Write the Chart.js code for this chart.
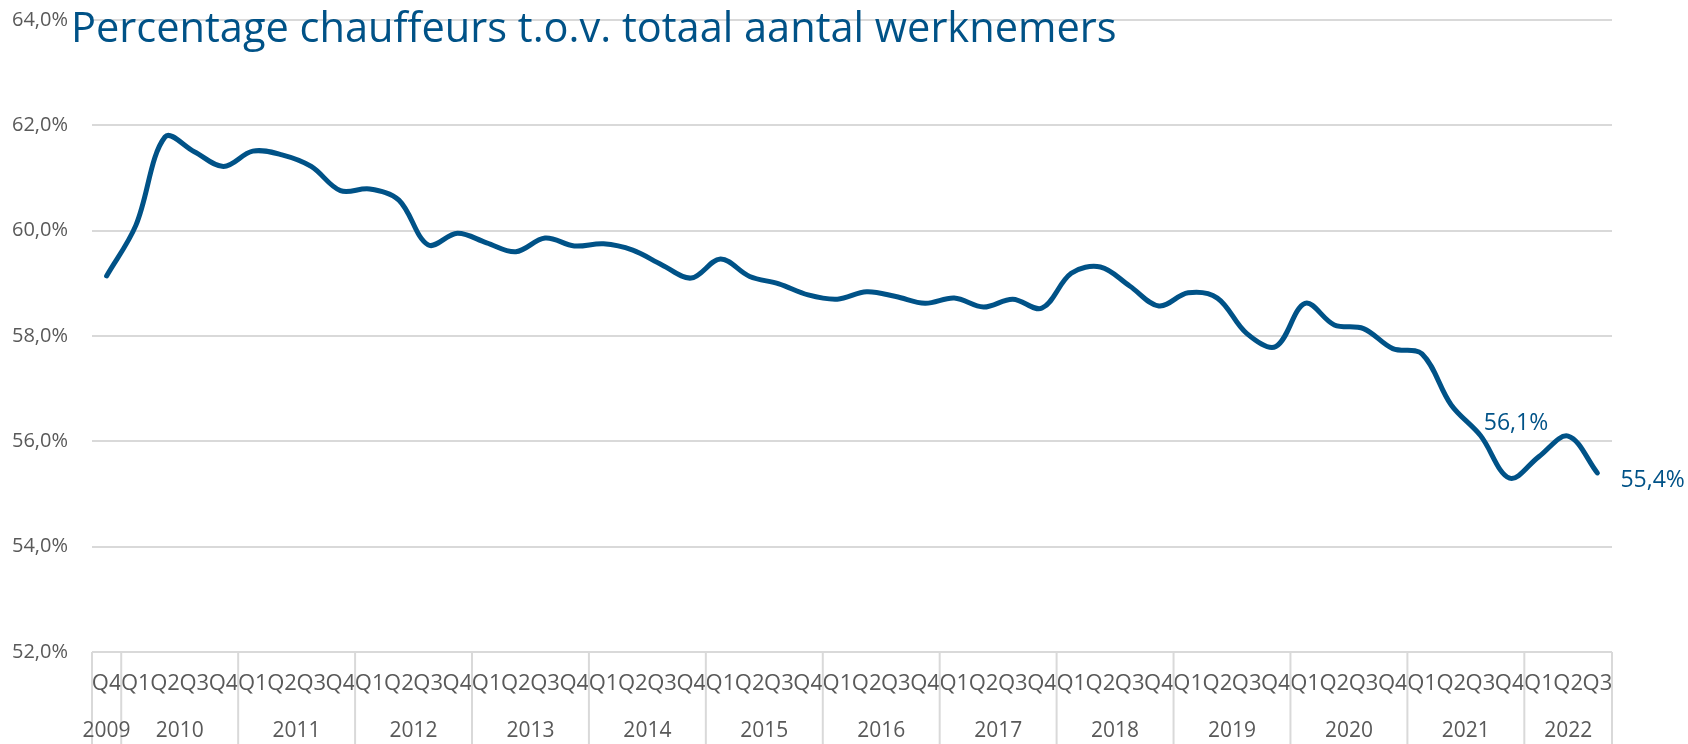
<!DOCTYPE html>
<html><head><meta charset="utf-8">
<script src="https://cdn.jsdelivr.net/npm/chart.js@4.4.1/dist/chart.umd.min.js"></script>
<style>html,body{margin:0;padding:0;background:#fff;overflow:hidden}#wrap{width:1688px;height:744px;position:relative}</style>
</head><body><div id="wrap"><canvas id="c" width="1688" height="744"></canvas></div>
<script>
const titleText = 'Percentage chauffeurs t.o.v. totaal aantal werknemers';
const quarters = ['Q4',
  'Q1','Q2','Q3','Q4','Q1','Q2','Q3','Q4','Q1','Q2','Q3','Q4','Q1','Q2','Q3','Q4',
  'Q1','Q2','Q3','Q4','Q1','Q2','Q3','Q4','Q1','Q2','Q3','Q4','Q1','Q2','Q3','Q4',
  'Q1','Q2','Q3','Q4','Q1','Q2','Q3','Q4','Q1','Q2','Q3','Q4','Q1','Q2','Q3','Q4',
  'Q1','Q2','Q3'];
const years = ['2009',
  '2010','2010','2010','2010','2011','2011','2011','2011','2012','2012','2012','2012',
  '2013','2013','2013','2013','2014','2014','2014','2014','2015','2015','2015','2015',
  '2016','2016','2016','2016','2017','2017','2017','2017','2018','2018','2018','2018',
  '2019','2019','2019','2019','2020','2020','2020','2020','2021','2021','2021','2021',
  '2022','2022','2022'];
const shareDrivers = [59.14,
  60.10,61.78,61.50,61.22, 61.51,61.44,61.22,60.76, 60.79,60.58,59.73,59.95,
  59.77,59.60,59.86,59.71, 59.75,59.63,59.35,59.10, 59.46,59.13,58.99,58.78,
  58.70,58.84,58.75,58.62, 58.72,58.55,58.70,58.53, 59.19,59.31,58.95,58.57,
  58.82,58.72,58.05,57.80, 58.62,58.21,58.14,57.76, 57.66,56.69,56.11,55.30,
  55.71,56.10,55.40];
const labeledIdx = [50, 51];
const yMin = 52, yMax = 64, yStep = 2;

const BLUE = '#005287';
const GRAY = '#595959';
const GRID = '#d9d9d9';
const FONT = '"Open Sans", "Noto Sans", sans-serif';
const fmt = v => v.toFixed(1).replace('.', ',') + '%';
const AREA_TOP = 20, AREA_BOTTOM = 652;

const decor = {
  id: 'decor',
  afterDraw(chart) {
    const {ctx, chartArea, scales: {x}} = chart;
    ctx.save();
    const half = (x.getPixelForValue(1) - x.getPixelForValue(0)) / 2;
    const groups = [];
    years.forEach((y, i) => {
      if (!groups.length || groups[groups.length - 1].year !== y) groups.push({year: y, s: i, e: i});
      else groups[groups.length - 1].e = i;
    });
    ctx.strokeStyle = GRID; ctx.lineWidth = 2;
    const edges = groups.map(g => x.getPixelForValue(g.s) - half);
    edges.push(x.getPixelForValue(groups[groups.length - 1].e) + half);
    edges.forEach(px => {
      ctx.beginPath(); ctx.moveTo(px, chartArea.bottom); ctx.lineTo(px, chart.height); ctx.stroke();
    });
    ctx.fillStyle = GRAY; ctx.font = '21px ' + FONT;
    ctx.textAlign = 'center'; ctx.textBaseline = 'middle';
    groups.forEach(g => {
      const cx = (x.getPixelForValue(g.s) + x.getPixelForValue(g.e)) / 2;
      ctx.fillText(g.year, cx, 731);
    });
    ctx.font = '40px ' + FONT;
    const w = ctx.measureText(titleText).width;
    const fs = 40 * 1046 / w;
    ctx.font = fs.toFixed(2) + 'px ' + FONT;
    ctx.fillStyle = BLUE; ctx.textAlign = 'left'; ctx.textBaseline = 'alphabetic';
    ctx.fillText(titleText, 71, 42);
    const meta = chart.getDatasetMeta(0);
    ctx.font = '23px ' + FONT;
    ctx.textBaseline = 'middle';
    const p1 = meta.data[labeledIdx[0]];
    ctx.textAlign = 'right';
    ctx.fillText(fmt(shareDrivers[labeledIdx[0]]), p1.x - 20, p1.y - 13);
    const p2 = meta.data[labeledIdx[1]];
    ctx.textAlign = 'left';
    ctx.fillText(fmt(shareDrivers[labeledIdx[1]]), p2.x + 23, p2.y + 8);
    ctx.restore();
  }
};

const chart = new Chart(document.getElementById('c'), {
  type: 'line',
  data: {
    labels: quarters,
    datasets: [{
      data: shareDrivers,
      borderColor: BLUE,
      borderWidth: 5,
      pointRadius: 0,
      pointHoverRadius: 0,
      tension: 0.35,
      fill: false,
      borderCapStyle: 'round',
      borderJoinStyle: 'round'
    }]
  },
  options: {
    responsive: false,
    animation: false,
    devicePixelRatio: 1,
    layout: {autoPadding: false, padding: {left: 0, right: 76, top: AREA_TOP, bottom: 0}},
    plugins: {legend: {display: false}, tooltip: {enabled: false}, title: {display: false}},
    scales: {
      x: {
        type: 'category',
        offset: true,
        grid: {display: false, drawTicks: false},
        border: {display: false},
        ticks: {autoSkip: false, maxRotation: 0, minRotation: 0, padding: 19, color: GRAY, font: {family: FONT, size: 22}},
        afterFit: s => { s.height = 744 - AREA_BOTTOM; }
      },
      y: {
        min: yMin, max: yMax,
        grid: {color: GRID, lineWidth: 2, drawTicks: false},
        border: {display: false},
        ticks: {stepSize: yStep, padding: 24, color: GRAY, font: {family: FONT, size: 20}, callback: v => fmt(v)},
        afterFit: s => { s.width = 92; s.paddingTop = 0; s.paddingBottom = 0; }
      }
    }
  },
  plugins: [decor]
});
const dTop = chart.chartArea.top - AREA_TOP;
if (Math.abs(dTop) > 0.5) {
  chart.options.layout.padding.top = AREA_TOP - dTop;
  chart.update();
}
</script></body></html>
